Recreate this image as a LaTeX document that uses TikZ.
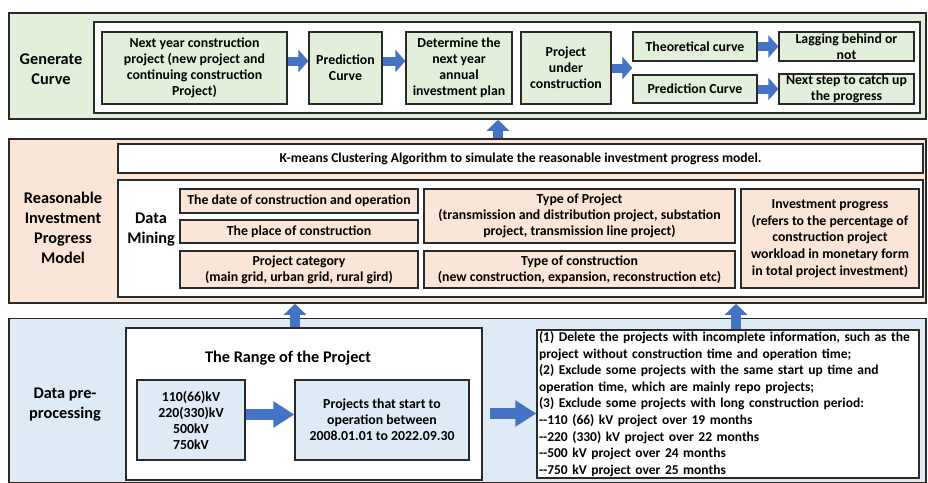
\documentclass[tikz,border=0pt]{standalone}
\usepackage{fontspec}
\setmainfont{Carlito}
\usetikzlibrary{arrows.meta}
\definecolor{gfill}{HTML}{E2EFDA}
\definecolor{pfill}{HTML}{FBE5D6}
\definecolor{bfill}{HTML}{DEEBF7}
\definecolor{arrblue}{HTML}{4472C4}
\definecolor{edge}{HTML}{2A2A2A}
\begin{document}
\begin{tikzpicture}[x=1pt,y=-1pt,
  section/.style={draw=edge, line width=1.5pt, inner sep=0pt},
  panel/.style={draw=edge, line width=1.3pt, fill=white, inner sep=0pt},
  box/.style={draw=edge, line width=1.2pt, inner sep=1pt, align=center,
    font=\bfseries\fontsize{13.8}{16}\selectfont},
  lbl/.style={align=center, inner sep=0pt, font=\bfseries\fontsize{16.3}{20}\selectfont},
  harr/.style={draw=arrblue, line width=9pt,
    -{Triangle[width=22pt,length=10pt,fill=arrblue]}},
  barr/.style={draw=arrblue, line width=11pt,
    -{Triangle[width=25pt,length=21pt,fill=arrblue]}},
  varr/.style={draw=arrblue, line width=10pt,
    -{Triangle[width=22pt,length=11pt,fill=arrblue]}}]
\useasboundingbox (0,0) rectangle (928,482);

% ---------- Generate Curve ----------
\node[section, fill=gfill, minimum width=917pt, minimum height=106pt] (gen) at (467.5,66) {};
\node[panel, minimum width=826pt, minimum height=91pt] (genin) at (507,67.5) {};
\node[lbl] (genl) at (51,69) {Generate\\Curve};
\node[box, fill=gfill, minimum width=185pt, minimum height=72pt] (b1) at (194.5,68)
  {Next year construction\\project (new project and\\continuing construction\\Project)};
\node[box, fill=gfill, minimum width=73pt, minimum height=72pt] (b2) at (345.5,68)
  {Prediction\\Curve};
\node[box, fill=gfill, minimum width=106pt, minimum height=72pt] (b3) at (459,68)
  {Determine the\\next year\\annual\\investment plan};
\node[box, fill=gfill, minimum width=90pt, minimum height=72pt] (b4) at (566,68)
  {Project\\under\\construction};
\node[box, fill=gfill, minimum width=124pt, minimum height=29pt] (b5) at (695,46.5)
  {Theoretical curve};
\node[box, fill=gfill, minimum width=124pt, minimum height=28pt] (b6) at (695,89)
  {Prediction Curve};
\node[box, fill=gfill, minimum width=135pt, minimum height=29pt] (b7) at (846.5,46.5)
  {Lagging behind or\\not};
\node[box, fill=gfill, minimum width=135pt, minimum height=28pt] (b8) at (846.5,89)
  {Next step to catch up\\the progress};
\draw[harr] ([yshift=7pt]b1.east) -- ([yshift=7pt]b2.west);
\draw[harr] ([yshift=7pt]b2.east) -- ([yshift=7pt]b3.west);
\draw[harr] (b4.east) -- (b5.west |- b4.east);
\draw[harr] (b5.east) -- (b7.west);
\draw[harr] (b6.east) -- (b8.west);

% ---------- Reasonable Investment Progress Model ----------
\node[section, fill=pfill, minimum width=917pt, minimum height=164pt] (mid) at (467.5,221) {};
\node[panel, minimum width=805pt, minimum height=29pt,
  font=\bfseries\fontsize{13.6}{16}\selectfont] (km) at (520.5,158.5)
  {K-means Clustering Algorithm to simulate the reasonable investment progress model.};
\node[panel, minimum width=805pt, minimum height=117pt] (dm) at (520.5,238.5) {};
\node[lbl] (midl) at (63,228) {Reasonable\\Investment\\Progress\\Model};
\node[lbl] (dml) at (151,230) {Data\\Mining};
\node[box, fill=pfill, minimum width=238pt, minimum height=24pt] (m1) at (299,201)
  {The date of construction and operation};
\node[box, fill=pfill, minimum width=238pt, minimum height=23pt] (m2) at (299,231.5)
  {The place of construction};
\node[box, fill=pfill, minimum width=238pt, minimum height=37pt] (m3) at (299,269.5)
  {Project category\\(main grid, urban grid, rural gird)};
\node[box, fill=pfill, minimum width=311pt, minimum height=54pt] (m4) at (579.5,216)
  {Type of Project\\(transmission and distribution project, substation\\project, transmission line project)};
\node[box, fill=pfill, minimum width=311pt, minimum height=37pt] (m5) at (579.5,269.5)
  {Type of construction\\(new construction, expansion, reconstruction etc)};
\node[box, fill=pfill, minimum width=178pt, minimum height=99pt,
  font=\bfseries\fontsize{13.8}{16.8}\selectfont] (m6) at (830,238.5)
  {Investment progress\\(refers to the percentage of\\construction project\\workload in monetary form\\in total project investment)};
\draw[varr] ([xshift=30.5pt]mid.north) -- ([xshift=30.5pt]gen.south);

% ---------- Data pre-processing ----------
\node[section, fill=bfill, minimum width=917pt, minimum height=164pt] (bot) at (467.5,400.5) {};
\node[panel, minimum width=356pt, minimum height=152pt] (botin) at (304,404) {};
\node[lbl] (botl) at (65,405) {Data pre-\\processing};
\node[lbl] (rangel) at (288,358) {The Range of the Project};
\node[box, fill=bfill, minimum width=108pt, minimum height=80pt] (kv) at (191,420)
  {110(66)kV\\220(330)kV\\500kV\\750kV};
\node[box, fill=bfill, minimum width=174pt, minimum height=80pt] (proj) at (382,420)
  {Projects that start to\\operation between\\2008.01.01 to 2022.09.30};
\node[panel, minimum width=382pt, minimum height=148pt, align=left, text width=378pt,
  font=\bfseries\fontsize{13.5}{16.6}\selectfont] (rules) at (728,404)
  {(1) Delete the projects with incomplete information, such as the\\
   project without construction time and operation time;\\
   (2) Exclude some projects with the same start up time and\\
   operation time, which are mainly repo projects;\\
   (3) Exclude some projects with long construction period:\\
   -{}-110 (66) kV project over 19 months\\
   -{}-220 (330) kV project over 22 months\\
   -{}-500 kV project over 24 months\\
   -{}-750 kV project over 25 months};
\draw[barr] ([yshift=5.5pt]kv.east) -- ([yshift=5.5pt]proj.west);
\draw[barr] ([xshift=7pt,yshift=-9.5pt]botin.east) -- ([yshift=-9.5pt]rules.west);
\draw[varr] ([xshift=-9pt]botin.north) -- ([xshift=-172.5pt]mid.south);
\draw[varr] ([xshift=8pt]rules.north) -- ([xshift=268.5pt]mid.south);
\end{tikzpicture}
\end{document}
